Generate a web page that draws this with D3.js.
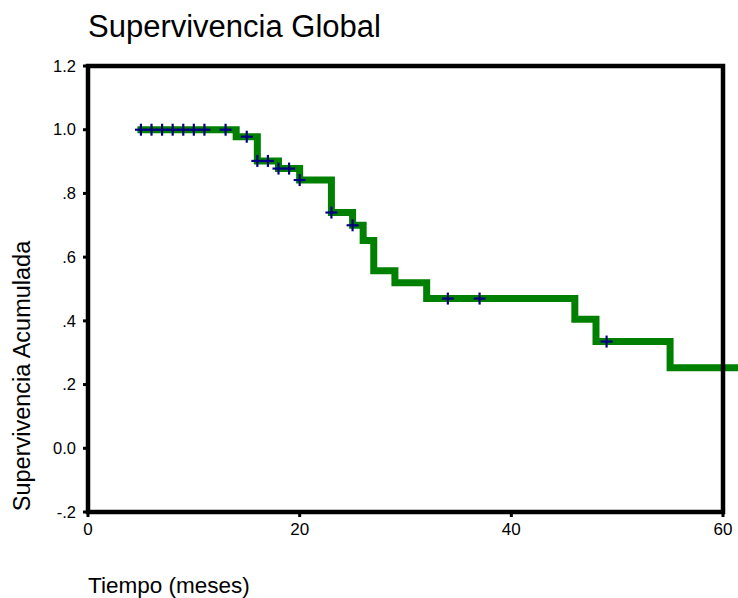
<!DOCTYPE html>
<html>
<head>
<meta charset="utf-8">
<script src="https://cdn.jsdelivr.net/npm/d3@7"></script>
<style>
  html, body { margin: 0; padding: 0; background: #fff; }
  svg { display: block; }
  text { font-family: "Liberation Sans", Arial, sans-serif; fill: #000; }
</style>
</head>
<body>
<svg id="chart" width="738" height="598"></svg>
<script>
// ---- data ----
const title = "Supervivencia Global";
const xLabel = "Tiempo (meses)";
const yLabel = "Supervivencia Acumulada";
const stepTimes = [5, 14, 16, 18, 20, 23, 25, 26, 27, 29, 32, 46, 48, 55, 62];
const survival  = [1.0, 0.978, 0.902, 0.878, 0.842, 0.740, 0.700, 0.652, 0.557, 0.520, 0.470, 0.405, 0.335, 0.253, 0.253];
const censoredTimes = [5, 6, 7, 8, 9, 10, 11, 13, 15, 16, 17, 18, 19, 20, 23, 25, 34, 37, 49];
const xTicks = [0, 20, 40, 60];
const yTicks = [-0.2, 0.0, 0.2, 0.4, 0.6, 0.8, 1.0, 1.2];
const yTickLabels = ["-.2", "0.0", ".2", ".4", ".6", ".8", "1.0", "1.2"];

// ---- layout ----
const pLeft = 88, pRight = 723, pTop = 66, pBottom = 512;
const svg = d3.select("#chart");

const x = d3.scaleLinear().domain([0, 60]).range([pLeft, pRight]);
const y = d3.scaleLinear().domain([-0.2, 1.2]).range([pBottom, pTop]);

// title
svg.append("text").attr("x", 88).attr("y", 37)
  .attr("font-size", 31).text(title);

// survival step curve
const pts = stepTimes.map((t, i) => [t, survival[i]]);
const line = d3.line().x(d => x(d[0])).y(d => y(d[1])).curve(d3.curveStepAfter);
svg.append("path").datum(pts)
  .attr("d", line)
  .attr("fill", "none")
  .attr("stroke", "#008000")
  .attr("stroke-width", 7)
  .attr("stroke-linejoin", "miter")
  .attr("stroke-linecap", "square");

// censor marks
function survAt(t) {
  const i = d3.bisectRight(stepTimes, t) - 1;
  return survival[Math.max(0, i)];
}
const cg = svg.append("g").attr("stroke", "#000080").attr("stroke-width", 2.2);
censoredTimes.forEach(t => {
  const cx = x(t), cy = y(survAt(t));
  cg.append("line").attr("x1", cx - 6).attr("x2", cx + 6).attr("y1", cy).attr("y2", cy);
  cg.append("line").attr("x1", cx).attr("x2", cx).attr("y1", cy - 6).attr("y2", cy + 6);
});

// frame
svg.append("rect")
  .attr("x", pLeft).attr("y", pTop)
  .attr("width", pRight - pLeft).attr("height", pBottom - pTop)
  .attr("fill", "none").attr("stroke", "#000").attr("stroke-width", 4.5);

// y axis ticks and labels
yTicks.forEach((v, i) => {
  svg.append("line").attr("x1", pLeft - 5).attr("x2", pLeft).attr("y1", y(v)).attr("y2", y(v))
    .attr("stroke", "#000").attr("stroke-width", 3);
  svg.append("text").attr("x", 76).attr("y", y(v)).attr("dy", "0.35em")
    .attr("text-anchor", "end").attr("font-size", 16.5).text(yTickLabels[i]);
});

// x axis ticks and labels
xTicks.forEach(v => {
  svg.append("line").attr("x1", x(v)).attr("x2", x(v)).attr("y1", pBottom).attr("y2", pBottom + 5)
    .attr("stroke", "#000").attr("stroke-width", 3);
  svg.append("text").attr("x", x(v)).attr("y", 535)
    .attr("text-anchor", "middle").attr("font-size", 17).text(String(v));
});

// axis labels
svg.append("text").attr("x", 88).attr("y", 593)
  .attr("font-size", 22.5).text(xLabel);
svg.append("text")
  .attr("transform", "translate(30,376) rotate(-90)")
  .attr("text-anchor", "middle").attr("font-size", 23.5).text(yLabel);
</script>
</body>
</html>
